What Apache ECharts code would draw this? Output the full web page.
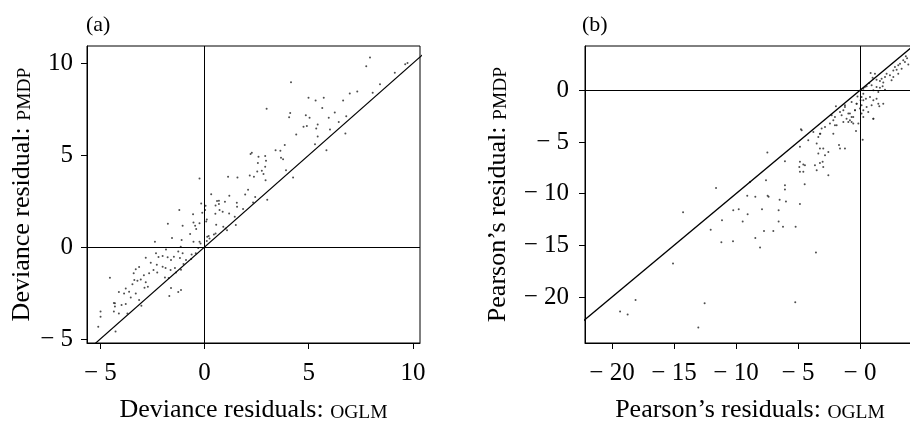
<!DOCTYPE html>
<html>
<head>
<meta charset="utf-8">
<script src="https://cdn.jsdelivr.net/npm/echarts@6/dist/echarts.min.js"></script>
<style>
  html, body { margin: 0; padding: 0; background: #fff; }
  #chart { width: 910px; height: 423px; }
</style>
</head>
<body>
<div id="chart"></div>
<script>
// (a) deviance residuals: [OGLM, PMDP]
var devianceA = [
  [7.94,10.31],[7.76,9.84],[9.74,10.02],[9.63,9.95],[9.13,9.49],[8.42,8.86],[4.15,8.97],[7.33,8.46],
  [6.97,8.35],[8.07,8.39],[4.99,8.13],[5.33,7.97],[5.72,8.13],[6.65,7.97],[5.65,7.57],[6.25,7.32],
  [2.98,7.52],[4.11,7.30],[4.06,7.07],[4.86,7.17],[5.04,7.03],[5.96,7.03],[6.80,7.12],[6.44,6.81],
  [5.43,6.67],[5.36,6.45],[4.75,6.54],[4.91,6.59],[6.02,6.39],[6.76,6.18],[4.40,6.12],[5.43,6.01],
  [5.30,5.60],[5.85,5.27],[3.41,5.27],[3.64,5.24],[3.85,5.56],[2.27,5.13],[2.21,5.07],[2.59,4.91],
  [2.91,4.95],[3.67,4.86],[3.77,4.78],[2.95,4.69],[2.56,4.58],[2.91,4.37],[2.75,4.15],[2.83,3.97],
  [2.53,4.11],[3.91,4.18],[2.17,3.89],[2.37,3.82],[2.93,3.64],[4.25,3.79],[1.13,3.82],[1.58,3.79],
  [-0.24,3.73],[2.09,3.12],[0.32,2.88],[1.19,2.79],[1.95,2.86],[2.43,2.72],[2.33,2.43],[3.01,2.57],
  [0.60,2.50],[0.69,2.34],[0.53,2.26],[0.98,2.46],[0.69,2.52],[1.55,2.41],[1.56,2.19],[1.85,2.07],
  [0.72,2.01],[0.87,1.92],[1.18,1.83],[0.52,1.81],[1.45,1.65],[0.05,2.25],[0.03,2.01],[-0.16,2.37],
  [-0.11,1.87],[0.11,1.50],[0.08,1.39],[-1.21,2.01],[-0.55,1.79],[-1.76,1.27],[-1.05,1.16],[-0.53,1.34],
  [-0.45,1.16],[-0.40,0.98],[-0.69,0.71],[-0.24,1.29],[0.56,1.21],[0.90,1.11],[1.01,1.01],[1.08,0.92],
  [1.50,1.20],[0.53,0.74],[0.45,0.69],[0.13,0.56],[0.24,0.47],[0.11,0.33],[-0.24,0.29],[-0.19,0.20],
  [-2.38,0.29],[-1.56,0.49],[-1.10,0.38],[-0.53,0.29],[-1.14,0.02],[-1.85,-0.13],[-2.33,-0.34],[-2.01,-0.49],
  [-2.21,-0.54],[-1.77,-0.56],[-1.61,-0.71],[-1.26,-0.24],[-1.05,-0.34],[-1.47,-0.53],[-1.18,-0.60],[-0.89,-0.71],
  [-0.64,-0.65],[-0.42,-0.34],[-2.82,-0.58],[-2.58,-0.85],[-2.29,-0.96],[-2.01,-1.07],[-1.87,-1.14],[-1.63,-1.25],
  [-1.42,-1.14],[-1.37,-1.39],[-1.13,-1.23],[-1.01,-0.92],[-3.30,-1.21],[-3.40,-1.43],[-3.14,-1.09],[-2.91,-1.54],
  [-2.66,-1.43],[-2.45,-1.25],[-2.27,-1.38],[-3.22,-1.83],[-3.06,-1.76],[-2.82,-1.92],[-2.88,-2.21],[-2.72,-2.16],
  [-3.46,-2.03],[-3.37,-1.79],[-1.90,-1.65],[-1.72,-1.68],[-4.54,-1.67],[-4.11,-2.45],[-3.86,-2.52],[-3.78,-2.25],
  [-3.62,-2.43],[-3.30,-2.52],[-3.54,-2.74],[-3.14,-2.88],[-4.30,-3.06],[-4.30,-3.24],[-3.78,-3.10],[-3.98,-3.15],
  [-3.03,-3.19],[-4.35,-3.51],[-4.11,-3.61],[-3.70,-3.61],[-4.99,-3.51],[-4.99,-3.79],[-1.61,-2.23],[-1.13,-2.34],
  [-1.26,-2.45],[-1.69,-2.66],[-5.10,-4.33],[-4.27,-4.60],[-4.35,-3.05],[-0.30,-0.05],[-0.62,-0.40],[0.20,0.60]
];
// (b) Pearson residuals: [OGLM, PMDP]
var pearsonB = [
  [-19.35,-21.4],[-18.74,-21.7],[-18.1,-20.3],[-13.04,-22.96],[-12.53,-20.6],[-5.22,-20.5],[-15.08,-16.75],[-14.27,-11.79],
  [-11.61,-9.44],[-12.04,-13.5],[-11.13,-12.56],[-10.24,-14.6],[-11.18,-14.7],[-10.22,-11.6],[-9.78,-11.5],[-9.46,-12.7],
  [-9.06,-12.0],[-9.09,-10.2],[-8.87,-8.86],[-8.44,-10.3],[-8.44,-14.3],[-8.06,-15.2],[-7.90,-11.5],[-7.74,-13.6],
  [-7.58,-8.70],[-7.47,-6.02],[-7.45,-10.2],[-7.37,-10.3],[-6.56,-11.6],[-6.56,-12.7],[-6.99,-13.6],[-6.48,-10.6],
  [-6.21,-13.2],[-6.05,-9.18],[-6.05,-9.6],[-5.97,-10.76],[-5.19,-13.2],[-4.84,-11.0],[-6.05,-6.86],[-3.55,-15.7],
  [-4.46,-9.08],[-4.89,-7.41],[-4.84,-7.89],[-4.57,-7.18],[-4.84,-5.47],[-4.76,-3.77],[0.22,-4.77],[1.08,-2.74],
  [1.56,-1.55],[-1.21,-1.45],[-0.67,-1.13],[-0.27,-1.29],[-0.40,-1.93],[-0.81,-2.25],[-1.34,-1.93],[-1.48,-2.42],
  [-1.08,-2.74],[-0.67,-2.58],[-0.94,-3.06],[-0.54,-3.22],[-0.13,-3.22],[-1.94,-1.55],[-2.28,-2.42],[-2.42,-3.22],
  [-2.02,-3.38],[-2.15,-4.19],[-3.09,-3.70],[-3.23,-4.19],[-2.82,-3.54],[-3.36,-4.51],[-3.76,-4.03],[-4.70,-3.86],
  [-4.17,-4.83],[-3.49,-5.15],[-3.23,-5.64],[-2.96,-5.64],[-2.55,-5.96],[-2.82,-6.28],[-3.36,-6.12],[-1.61,-5.64],
  [-1.21,-5.64],[-0.32,-3.93],[-4.84,-6.92],[-4.44,-7.25],[-4.57,-7.89],[-3.63,-7.25],[-3.23,-7.02],[-3.01,-6.92],
  [-2.96,-7.41],[-3.49,-7.73],[-2.55,-8.21],[0.27,-0.97],[0.27,-1.93],[0.13,-1.45],[0.86,1.67],[1.21,1.61],
  [1.02,1.22],[0.75,0.71],[0.94,0.48],[1.34,1.03],[1.61,0.90],[1.75,1.13],[1.88,0.77],[2.02,1.29],
  [2.15,1.61],[2.42,1.45],[2.55,0.97],[2.69,1.93],[2.82,2.25],[2.96,2.00],[3.09,2.42],[3.23,2.58],
  [3.36,2.09],[3.49,2.90],[3.63,2.74],[3.09,1.61],[2.69,1.29],[1.34,0.32],[1.61,0.26],[1.83,0.39],
  [2.02,0.06],[1.48,-0.16],[1.08,0.00],[0.27,0.16],[0.40,0.32],[0.54,0.39],[0.27,-0.32],[0.13,-0.64],
  [0.05,-0.97],[0.48,-0.81],[0.81,-0.64],[1.08,-0.97],[1.48,-1.29],[0.94,-1.45],[0.54,-1.61],[0.00,-1.77],
  [0.13,-2.25],[0.27,-2.58],[0.67,-2.09],[1.34,-0.81],[1.88,-1.29],[1.08,-2.74],[-2.02,-2.58],[-1.61,-2.09],
  [-1.21,-1.61],[-0.94,-2.25],[-0.81,-2.90],[-1.34,-3.06],[-0.54,-2.58],[-0.40,-1.93],[-0.27,-1.29],[-0.67,-3.06],
  [-1.88,-3.38],[-2.15,-2.90],[3.80,3.10],[3.90,2.50],[3.70,3.30],[-3.20,-4.20],[-1.69,-5.30],[-0.20,-0.60]
];
// reference line y = x (end points beyond both plot boxes, clipped)
var diagA = [[-6, -6], [11, 11]];
var diagB = [[-23, -23], [5, 5]];
// tick positions and labels
var xTicksA = [-5, 0, 5, 10];
var yTicksA = [-5, 0, 5, 10];
var xTicksB = [-20, -15, -10, -5, 0];
var yTicksB = [-20, -15, -10, -5, 0];
var tickTextA = {'-5': '\u2212 5', '0': '0', '5': '5', '10': '10'};
var xTickTextB = {'-20': '\u2212 20', '-15': '\u2212 15', '-10': '\u2212 10', '-5': '\u2212 5', '0': '\u2212 0'};
var yTickTextB = {'-20': '\u2212 20', '-15': '\u2212 15', '-10': '\u2212 10', '-5': '\u2212 5', '0': '0'};

var FONT = 'Liberation Serif';
var chart = echarts.init(document.getElementById('chart'));

function titleRich() {
  return {
    rich: {
      t: { fontFamily: FONT, fontSize: 26, color: '#000', lineHeight: 28, verticalAlign: 'bottom' },
      sc: { fontFamily: FONT, fontSize: 19.5, color: '#000', lineHeight: 28, verticalAlign: 'bottom' }
    }
  };
}

function axis(ticks, texts, min, max, name, gap, margin) {
  return {
    type: 'value', min: min, max: max,
    name: name, nameLocation: 'middle', nameGap: gap,
    nameTextStyle: titleRich(),
    axisLine: { show: true, onZero: false, lineStyle: { color: '#000', width: 1 } },
    axisTick: { show: true, inside: false, length: 6, customValues: ticks, lineStyle: { color: '#000' } },
    axisLabel: {
      customValues: ticks, margin: margin,
      fontFamily: FONT, fontSize: 25, color: '#000',
      formatter: function (v) { return texts[String(Math.round(v))]; }
    },
    splitLine: { show: false }
  };
}

var zeroLines = {
  silent: true, symbol: 'none', label: { show: false },
  lineStyle: { color: '#000', width: 1, type: 'solid' },
  data: [{ xAxis: 0 }, { yAxis: 0 }]
};

chart.setOption({
  animation: false,
  grid: [
    { left: 87, top: 46, right: 490, bottom: 80, show: true, borderColor: '#000', borderWidth: 1, outerBoundsMode: 'none' },
    { left: 585, top: 46, right: -5, bottom: 80, show: true, borderColor: '#000', borderWidth: 1, outerBoundsMode: 'none' }
  ],
  graphic: [
    { type: 'text', left: 86, top: 14, style: { text: '(a)', fontFamily: FONT, fontSize: 22, fill: '#000' } },
    { type: 'text', left: 582, top: 14, style: { text: '(b)', fontFamily: FONT, fontSize: 22, fill: '#000' } }
  ],
  xAxis: [
    Object.assign(axis(xTicksA, tickTextA, -5.64, 10.34, '{t|Deviance residuals: }{sc|OGLM}', 52, 18), { gridIndex: 0 }),
    Object.assign(axis(xTicksB, xTickTextB, -22.18, 4.44, '{t|Pearson\u2019s residuals: }{sc|OGLM}', 52, 18), { gridIndex: 1 })
  ],
  yAxis: [
    Object.assign(axis(yTicksA, tickTextA, -5.22, 10.94, '{t|Deviance residual: }{sc|PMDP}', 52, 14), { gridIndex: 0 }),
    Object.assign(axis(yTicksB, yTickTextB, -24.45, 4.29, '{t|Pearson\u2019s residual: }{sc|PMDP}', 74, 16), { gridIndex: 1 })
  ],
  series: [
    { type: 'scatter', xAxisIndex: 0, yAxisIndex: 0, data: devianceA, symbolSize: 2,
      itemStyle: { color: '#222' }, markLine: zeroLines, clip: true },
    { type: 'line', xAxisIndex: 0, yAxisIndex: 0, data: diagA, symbol: 'none', clip: true,
      lineStyle: { color: '#000', width: 1.2 } },
    { type: 'scatter', xAxisIndex: 1, yAxisIndex: 1, data: pearsonB, symbolSize: 2,
      itemStyle: { color: '#222' }, markLine: zeroLines, clip: true },
    { type: 'line', xAxisIndex: 1, yAxisIndex: 1, data: diagB, symbol: 'none', clip: true,
      lineStyle: { color: '#000', width: 1.2 } }
  ]
});
</script>
</body>
</html>
